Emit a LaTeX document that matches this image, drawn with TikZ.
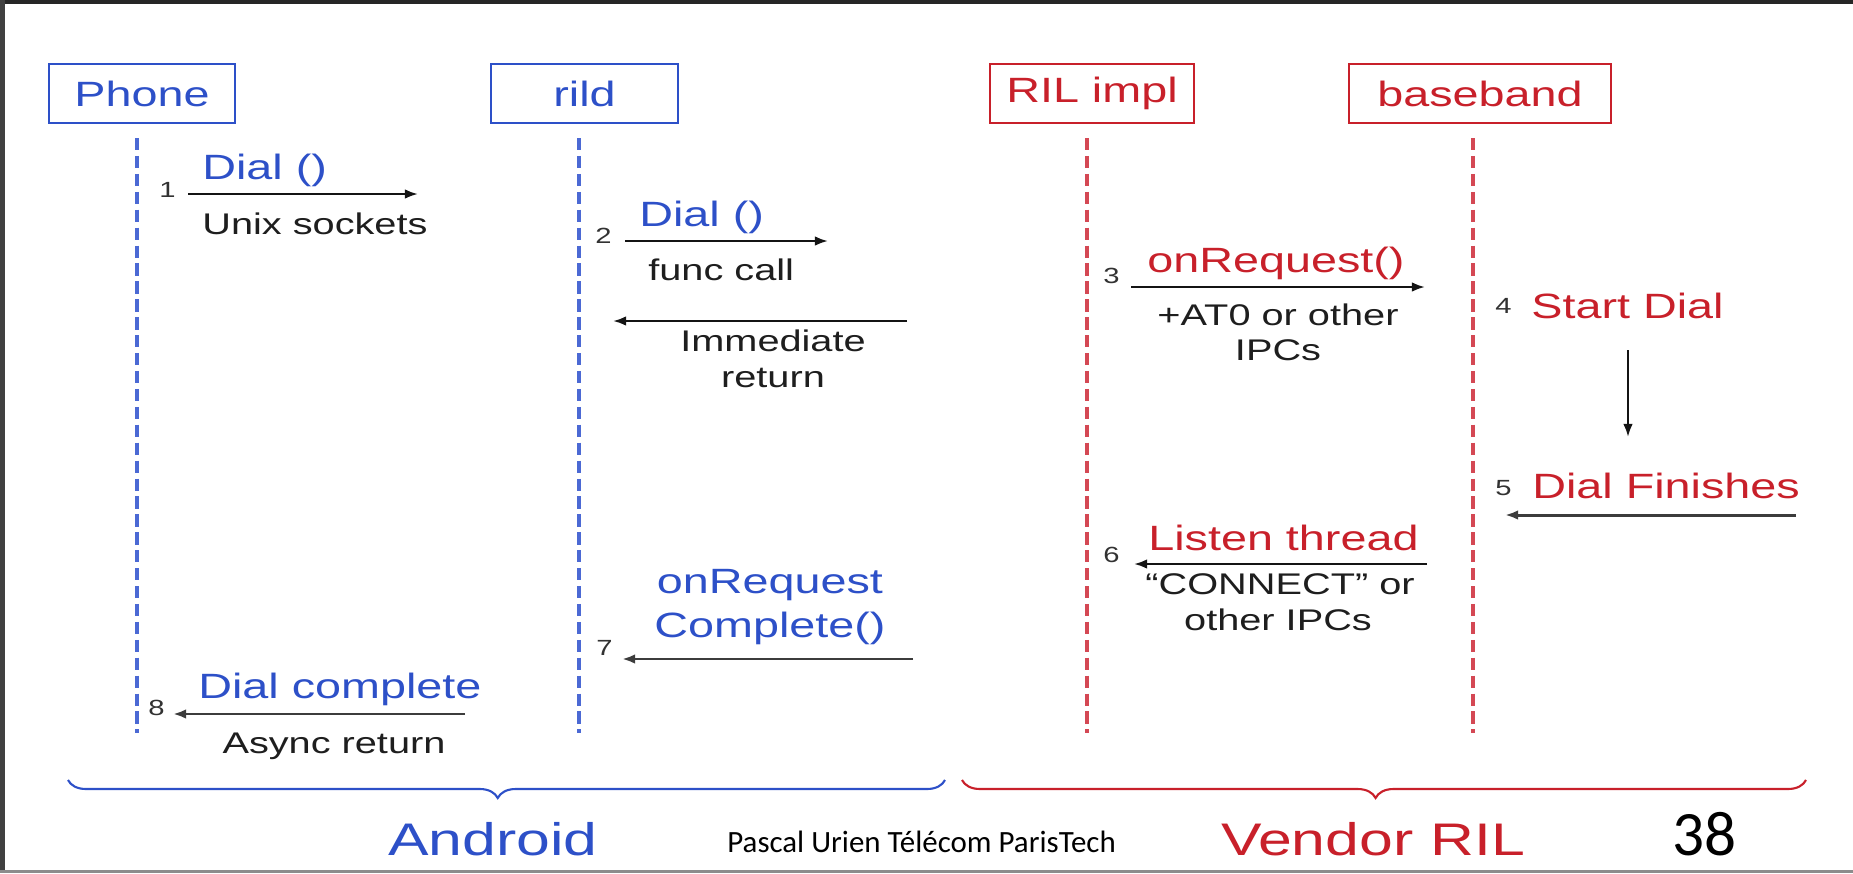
\documentclass[tikz,border=0pt]{standalone}
\usepackage{fontspec}
\setmainfont{Liberation Sans}[FakeStretch=1.33]
\newfontfamily\footfont{Carlito}
\usetikzlibrary{arrows.meta,decorations.pathreplacing}
\definecolor{ablue}{RGB}{45,80,200}
\definecolor{lblue}{RGB}{75,105,212}
\definecolor{ared}{RGB}{200,32,42}
\definecolor{lred}{RGB}{212,72,84}
\definecolor{txt}{RGB}{30,30,30}
\definecolor{numc}{RGB}{50,50,50}
\definecolor{arrc}{RGB}{20,20,20}
\definecolor{arrg}{RGB}{60,60,60}
\begin{document}
\begin{tikzpicture}[x=0.02cm,y=-0.02cm,
  box/.style={draw, line width=1.2pt, inner sep=0pt, minimum height=1.18cm, font=\fontsize{20}{24}\selectfont},
  lbl/.style={inner sep=0pt, font=\fontsize{20}{24}\selectfont},
  sub/.style={inner sep=0pt, font=\fontsize{17}{20}\selectfont, text=txt},
  num/.style={inner sep=0pt, font=\fontsize{12.5}{14}\selectfont, text=numc, anchor=base west},
  msg/.style={line width=1.3pt, draw=arrc, -{Latex[length=7.5pt,width=5.5pt]}},
  life/.style={line width=1.9pt, dash pattern=on 7pt off 3.2pt},
  grp/.style={decorate, decoration={brace, amplitude=0.36cm, aspect=0.51}, line width=1.2pt},
  big/.style={inner sep=0pt, font=\fontsize{26}{30}\selectfont, anchor=base}
]
\useasboundingbox (0,0) rectangle (1853,873);
% frame
\draw[line width=2.3pt, draw=black!85] (0,2) -- (1853,2);
\draw[line width=2.8pt, draw=black!75] (2.5,0) -- (2.5,873);
\draw[line width=1.6pt, draw=black!45] (0,871.5) -- (1853,871.5);

% boxes
\node[box, draw=ablue, text=ablue, minimum width=3.72cm] (phone) at (142,93.5) {Phone};
\node[box, draw=ablue, text=ablue, minimum width=3.74cm] (rild) at (584.5,93.5) {rild};
\node[box, draw=ared, text=ared, minimum width=4.08cm] (rilimpl) at (1092,93.5) {RIL impl};
\node[box, draw=ared, text=ared, minimum width=5.24cm] (baseband) at (1480,93.5) {baseband};

% lifelines
\coordinate (phoneT) at (137,138); \coordinate (phoneB) at (137,733);
\coordinate (rildT) at (579,138); \coordinate (rildB) at (579,733);
\coordinate (implT) at (1087,138); \coordinate (implB) at (1087,733);
\coordinate (bbT) at (1473,138); \coordinate (bbB) at (1473,733);
\draw[life, draw=lblue] (phoneT) -- (phoneB);
\draw[life, draw=lblue] (rildT) -- (rildB);
\draw[life, draw=lred] (implT) -- (implB);
\draw[life, draw=lred] (bbT) -- (bbB);

% message 1
\coordinate (m1s) at (188,194); \coordinate (m1e) at (418,194);
\draw[msg] (m1s) -- (m1e);
\node[num] (n1) at (159,197) {1};
\node[lbl, text=ablue, anchor=base west] (l1) at (202,179) {Dial ()};
\node[sub, anchor=base west] (s1) at (202,234) {Unix sockets};

% message 2
\coordinate (m2s) at (625,241); \coordinate (m2e) at (828,241);
\draw[msg] (m2s) -- (m2e);
\node[num] (n2) at (595,243) {2};
\node[lbl, text=ablue, anchor=base west] (l2) at (639,226) {Dial ()};
\node[sub, anchor=base west] (s2) at (648,280) {func call};

% immediate return
\coordinate (mrs) at (907,321); \coordinate (mre) at (613,321);
\draw[msg] (mrs) -- (mre);
\node[sub, anchor=base] (sr1) at (773,351) {Immediate};
\node[sub, anchor=base] (sr2) at (773,387) {return};

% message 3
\coordinate (m3s) at (1131,287); \coordinate (m3e) at (1425,287);
\draw[msg] (m3s) -- (m3e);
\node[num] (n3) at (1103,283) {3};
\node[lbl, text=ared, anchor=base west] (l3) at (1147,272) {onRequest()};
\node[sub, anchor=base] (s3a) at (1278,325) {+AT0 or other};
\node[sub, anchor=base] (s3b) at (1278,360) {IPCs};

% step 4
\node[num] (n4) at (1495,313) {4};
\node[lbl, text=ared, anchor=base west] (l4) at (1531,318) {Start Dial};
\coordinate (m4s) at (1628,350); \coordinate (m4e) at (1628,437);
\draw[msg] (m4s) -- (m4e);

% step 5
\node[num] (n5) at (1495,495) {5};
\node[lbl, text=ared, anchor=base west] (l5) at (1532,498) {Dial Finishes};
\coordinate (m5s) at (1796,515); \coordinate (m5e) at (1505,515);
\draw[msg, draw=arrg, line width=1.7pt] (m5s) -- (m5e);

% message 6
\coordinate (m6s) at (1427,564); \coordinate (m6e) at (1134,564);
\draw[msg] (m6s) -- (m6e);
\node[num] (n6) at (1103,562) {6};
\node[lbl, text=ared, anchor=base west] (l6) at (1148,550) {Listen thread};
\node[sub, anchor=base] (s6a) at (1280,594) {“CONNECT” or};
\node[sub, anchor=base] (s6b) at (1278,630) {other IPCs};

% message 7
\coordinate (m7s) at (913,659); \coordinate (m7e) at (622,659);
\draw[msg, draw=arrg, line width=1.6pt] (m7s) -- (m7e);
\node[num] (n7) at (596,655) {7};
\node[lbl, text=ablue, anchor=base] (l7a) at (770,593) {onRequest};
\node[lbl, text=ablue, anchor=base] (l7b) at (770,637) {Complete()};

% message 8
\coordinate (m8s) at (465,714); \coordinate (m8e) at (173,714);
\draw[msg, draw=arrg, line width=1.6pt] (m8s) -- (m8e);
\node[num] (n8) at (148,715) {8};
\node[lbl, text=ablue, anchor=base west] (l8) at (198,698) {Dial complete};
\node[sub, anchor=base] (s8) at (334,753) {Async return};

% braces
\coordinate (bAr) at (945,780); \coordinate (bAl) at (68,780);
\draw[grp, draw=ablue] (bAr) -- (bAl);
\coordinate (bVr) at (1806,780); \coordinate (bVl) at (962,780);
\draw[grp, draw=ared] (bVr) -- (bVl);
\node[big, text=ablue] (android) at (493,855) {Android};
\node[big, text=ared] (vendor) at (1373,855) {Vendor RIL};

% footer
\node[inner sep=0pt, anchor=base west, font=\footfont\fontsize{17.6}{20}\selectfont] (foot) at (727,852) {Pascal Urien Télécom ParisTech};
\node[inner sep=0pt, anchor=base west, font=\footfont\fontsize{36}{40}\selectfont] (page) at (1672,855) {38};
\end{tikzpicture}
\end{document}
